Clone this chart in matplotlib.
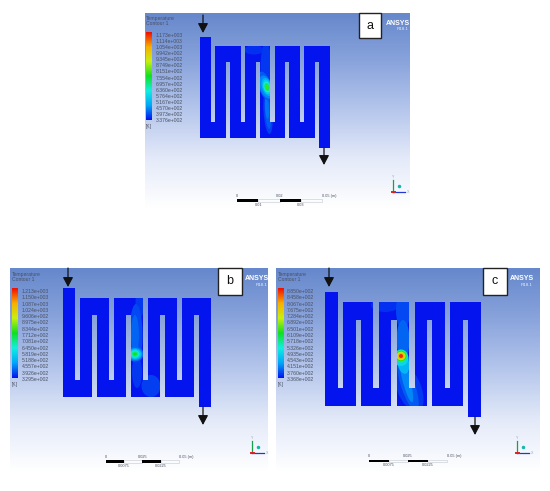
import numpy as np
import matplotlib
matplotlib.use("Agg")
import matplotlib.pyplot as plt
from matplotlib.colors import LinearSegmentedColormap
from matplotlib.patches import Ellipse, Polygon, Rectangle

# Legend values
labels_a = ["1.173e+003", "1.114e+003", "1.054e+003", "9.942e+002", "9.345e+002",
            "8.749e+002", "8.151e+002", "7.554e+002", "6.957e+002", "6.360e+002",
            "5.764e+002", "5.167e+002", "4.570e+002", "3.973e+002", "3.376e+002"]
labels_b = ["1.213e+003", "1.150e+003", "1.087e+003", "1.024e+003", "9.606e+002",
            "8.975e+002", "8.344e+002", "7.712e+002", "7.081e+002", "6.450e+002",
            "5.819e+002", "5.188e+002", "4.557e+002", "3.926e+002", "3.295e+002"]
labels_c = ["8.850e+002", "8.458e+002", "8.067e+002", "7.675e+002", "7.284e+002",
            "6.892e+002", "6.501e+002", "6.109e+002", "5.718e+002", "5.326e+002",
            "4.935e+002", "4.543e+002", "4.151e+002", "3.760e+002", "3.368e+002"]

# Hot regions: centre x, centre y, width, height, angle, colour-scale level
bands_a = [(254, 50, 20, 9, 0, .035), (266, 68, 11, 50, 0, .04), (268, 112, 9, 44, -4, .05),
           (268, 112, 6, 34, -4, .08), (267, 108, 4, 22, -4, .11), (265, 86, 13, 30, -18, .08),
           (266, 87, 12, 24, -18, .13), (267, 87, 10, 19, -18, .18), (267, 87, 8, 15, -15, .25),
           (267, 87, 6.5, 11, -15, .34), (267, 87, 5, 8, -15, .44), (267, 87, 3, 5, 0, .54)]
bands_b = [(140, 302, 9, 30, 0, .04), (136, 335, 13, 62, 0, .06), (135, 335, 8, 40, 0, .09),
           (151, 386, 19, 22, 0, .05), (137, 372, 10, 32, 0, .04), (135, 354, 17, 15, 0, .1),
           (135, 354, 14, 12, 0, .16), (135, 354, 12, 10, 0, .23), (135, 354, 9, 7.5, 0, .32),
           (135, 354, 6.5, 5.5, 0, .42), (135, 354, 3.5, 3, 0, .5)]
bands_c = [(385, 305, 28, 14, 0, .035), (403, 310, 14, 40, 0, .06), (403, 340, 13, 40, 0, .09),
           (409, 388, 24, 50, -22, .04), (408, 385, 14, 55, -18, .08), (406, 378, 8, 50, -14, .13),
           (403, 362, 12, 24, -12, .2), (401, 358, 15, 16, 0, .27), (401, 356, 13, 13, 0, .38),
           (401, 356, 11, 10.5, 0, .52), (401, 356, 9, 8.5, 0, .65), (401, 356, 7, 6.5, 0, .8),
           (401, 356, 4, 4, 0, .97)]

# Panel layout
panels = [
    dict(tag="a", labels=labels_a, bands=bands_a, box=(145, 410, 13, 208),
         arms=[200, 215.3, 230, 245, 259.7, 274.7, 289.3, 304, 319], arm_w=10.5,
         ys=(37.3, 46.3, 62.3, 122.3, 138.3, 147.7),
         bar=(146, 152, 32, 120), tx=155.5, ty0=35.5, ty1=120.5, head=(146, 21),
         ans=(398, 23), tagbox=(359, 381, 13, 38), in_x=203, in_y=(15, 33), out_x=324, out_y=(148, 165),
         scale=(237, 322, 199, 202), sc_top=["0", "0.02", "0.05 (m)"], sc_bot=["0.01", "0.03"], triad=(393, 192)),
    dict(tag="b", labels=labels_b, bands=bands_b, box=(10, 268, 268, 472),
         arms=[62.7, 80, 97, 114, 131, 148, 165, 182, 199], arm_w=12,
         ys=(288.3, 297.7, 314.7, 380, 397, 406.7),
         bar=(12, 18, 288, 378), tx=21.5, ty0=291.5, ty1=379.5, head=(12, 277),
         ans=(256.5, 279), tagbox=(218, 242, 268, 295), in_x=68, in_y=(268, 287), out_x=203, out_y=(407, 425),
         scale=(105.5, 179, 460, 462.5), sc_top=["0", "0.025", "0.05 (m)"], sc_bot=["0.0075", "0.0225"], triad=(252, 453)),
    dict(tag="c", labels=labels_c, bands=bands_c, box=(276, 540, 268, 472),
         arms=[325, 343, 360.7, 378.7, 396.7, 414.7, 432.3, 450.3, 468.3], arm_w=12.7,
         ys=(292, 302, 320, 388.3, 406.3, 416.7),
         bar=(278, 284, 288, 378), tx=287, ty0=291.5, ty1=379.5, head=(277.5, 277),
         ans=(522, 279), tagbox=(483, 507, 268, 295), in_x=329, in_y=(268, 287), out_x=475, out_y=(417, 435),
         scale=(369, 447, 459.5, 462), sc_top=["0", "0.025", "0.05 (m)"], sc_bot=["0.0075", "0.0225"], triad=(517, 453)),
]

cmap = LinearSegmentedColormap.from_list("ansys", ["#0414ee", "#00a8f8", "#12f0e0", "#10e020", "#c8f010", "#f8b000", "#f01000"])
bg = LinearSegmentedColormap.from_list("bg", ["#6688cc", "#8aa4dc", "#b6c7ec", "#e4eaf9", "#ffffff"])
TXT = "#4a5060"

fig = plt.figure(figsize=(5.5, 4.91), dpi=100, facecolor="white")
ax = fig.add_axes([0, 0, 1, 1])
ax.axis("off")
font = "Liberation Sans"


def outline(L, w, ys):
    R = [v + w for v in L]
    inlet, top, it, ib, bot, outlet = ys
    pts = [(L[0], inlet), (R[0], inlet), (R[0], ib), (L[1], ib), (L[1], top), (R[2], top), (R[2], ib),
           (L[3], ib), (L[3], top), (R[4], top), (R[4], ib), (L[5], ib), (L[5], top), (R[6], top), (R[6], ib),
           (L[7], ib), (L[7], top), (R[8], top), (R[8], outlet), (L[8], outlet), (L[8], it), (R[7], it),
           (R[7], bot), (L[6], bot), (L[6], it), (R[5], it), (R[5], bot), (L[4], bot), (L[4], it), (R[3], it),
           (R[3], bot), (L[2], bot), (L[2], it), (R[1], it), (R[1], bot), (L[0], bot)]
    return pts


for p in panels:
    x0, x1, y0, y1 = p["box"]
    ax.imshow(np.linspace(0, 1, 200)[:, None], extent=(x0, x1, y1, y0), cmap=bg, aspect="auto", zorder=0)

    body = Polygon(outline(p["arms"], p["arm_w"], p["ys"]), closed=True, fc=cmap(0), ec="none", zorder=2)
    ax.add_patch(body)
    for cx, cy, w, h, ang, lev in p["bands"]:
        e = Ellipse((cx, cy), w, h, angle=ang, fc=cmap(lev), ec="none", zorder=3)
        ax.add_patch(e)
        e.set_clip_path(body)

    # colour bar
    bx0, bx1, by0, by1 = p["bar"]
    ax.imshow(np.linspace(1, 0, 200)[:, None], extent=(bx0, bx1, by1, by0), cmap=cmap, aspect="auto", zorder=4)
    ax.text(p["head"][0], p["head"][1], "Temperature\nContour 1", fontsize=3.7, color=TXT, family=font,
            va="center", ha="left", linespacing=0.9, zorder=5)
    for lab, ty in zip(p["labels"], np.linspace(p["ty0"], p["ty1"], len(p["labels"]))):
        ax.text(p["tx"], ty, lab, fontsize=3.7, color=TXT, family=font, va="center", ha="left", zorder=5)
    ax.text(bx0, by1 + 6.5, "[K]", fontsize=3.5, color=TXT, family=font, va="center", ha="left", zorder=5)

    # ANSYS logo
    ax.text(p["ans"][0], p["ans"][1], "ANSYS", fontsize=5, fontweight="bold", color="white", family=font,
            ha="center", va="center", zorder=5)
    ax.text(p["ans"][0] + 5, p["ans"][1] + 6, "R18.1", fontsize=3.2, color="#e8eefa", family=font,
            ha="center", va="center", zorder=5)

    # tag box
    tx0, tx1, ty0, ty1 = p["tagbox"]
    ax.add_patch(Rectangle((tx0, ty0), tx1 - tx0, ty1 - ty0, fc="white", ec="#222222", lw=1.0, zorder=6))
    ax.text((tx0 + tx1) / 2, (ty0 + ty1) / 2, p["tag"], fontsize=9, color="#111111", family="Liberation Sans",
            ha="center", va="center", zorder=7)

    # flow arrows
    for ax_x, (a0, a1) in ((p["in_x"], p["in_y"]), (p["out_x"], p["out_y"])):
        ax.annotate("", xy=(ax_x, a1), xytext=(ax_x, a0), zorder=7,
                    arrowprops=dict(arrowstyle="-|>,head_width=0.17,head_length=0.32", color="#111111", lw=0.9,
                                    shrinkA=0, shrinkB=0, mutation_scale=18))

    # scale bar
    sx0, sx1, sy0, sy1 = p["scale"]
    edges = np.linspace(sx0, sx1, 5)
    for i in range(4):
        if i % 2 == 0:
            ax.add_patch(Rectangle((edges[i], sy0), edges[i + 1] - edges[i], sy1 - sy0, fc="black", ec="none", zorder=5))
        else:
            ax.add_patch(Rectangle((edges[i], sy0), edges[i + 1] - edges[i], sy1 - sy0, fc="none", ec="#c4c8d0", lw=0.4, zorder=5))
    ax.text(edges[0], sy0 - 3.2, p["sc_top"][0], fontsize=2.8, color=TXT, family=font, ha="center", va="center", zorder=5)
    ax.text(edges[2], sy0 - 3.2, p["sc_top"][1], fontsize=2.8, color=TXT, family=font, ha="center", va="center", zorder=5)
    ax.text(edges[4], sy0 - 3.2, p["sc_top"][2], fontsize=2.8, color=TXT, family=font, ha="left", va="center", zorder=5)
    ax.text(edges[1], sy1 + 3.2, p["sc_bot"][0], fontsize=2.8, color=TXT, family=font, ha="center", va="center", zorder=5)
    ax.text(edges[3], sy1 + 3.2, p["sc_bot"][1], fontsize=2.8, color=TXT, family=font, ha="center", va="center", zorder=5)

    # axis triad
    gx, gy = p["triad"]
    ax.plot([gx, gx], [gy, gy - 12], color="#18a048", lw=0.9, zorder=5)
    ax.plot([gx, gx + 12], [gy, gy], color="#2038d0", lw=0.9, zorder=5)
    ax.plot([gx - 1, gx + 1.5], [gy, gy], color="#e02020", lw=1.4, zorder=6)
    ax.plot([gx + 6], [gy - 6], marker="o", ms=1.5, color="#10b8b0", zorder=5)
    ax.text(gx, gy - 15, "Y", fontsize=2.6, color="#9aa4b8", family=font, ha="center", va="center", zorder=5)
    ax.text(gx + 15, gy, "X", fontsize=2.6, color="#9aa4b8", family=font, ha="center", va="center", zorder=5)

ax.set_xlim(0, 550)
ax.set_ylim(491, 0)
fig.savefig("out.png", dpi=100, facecolor="white")
